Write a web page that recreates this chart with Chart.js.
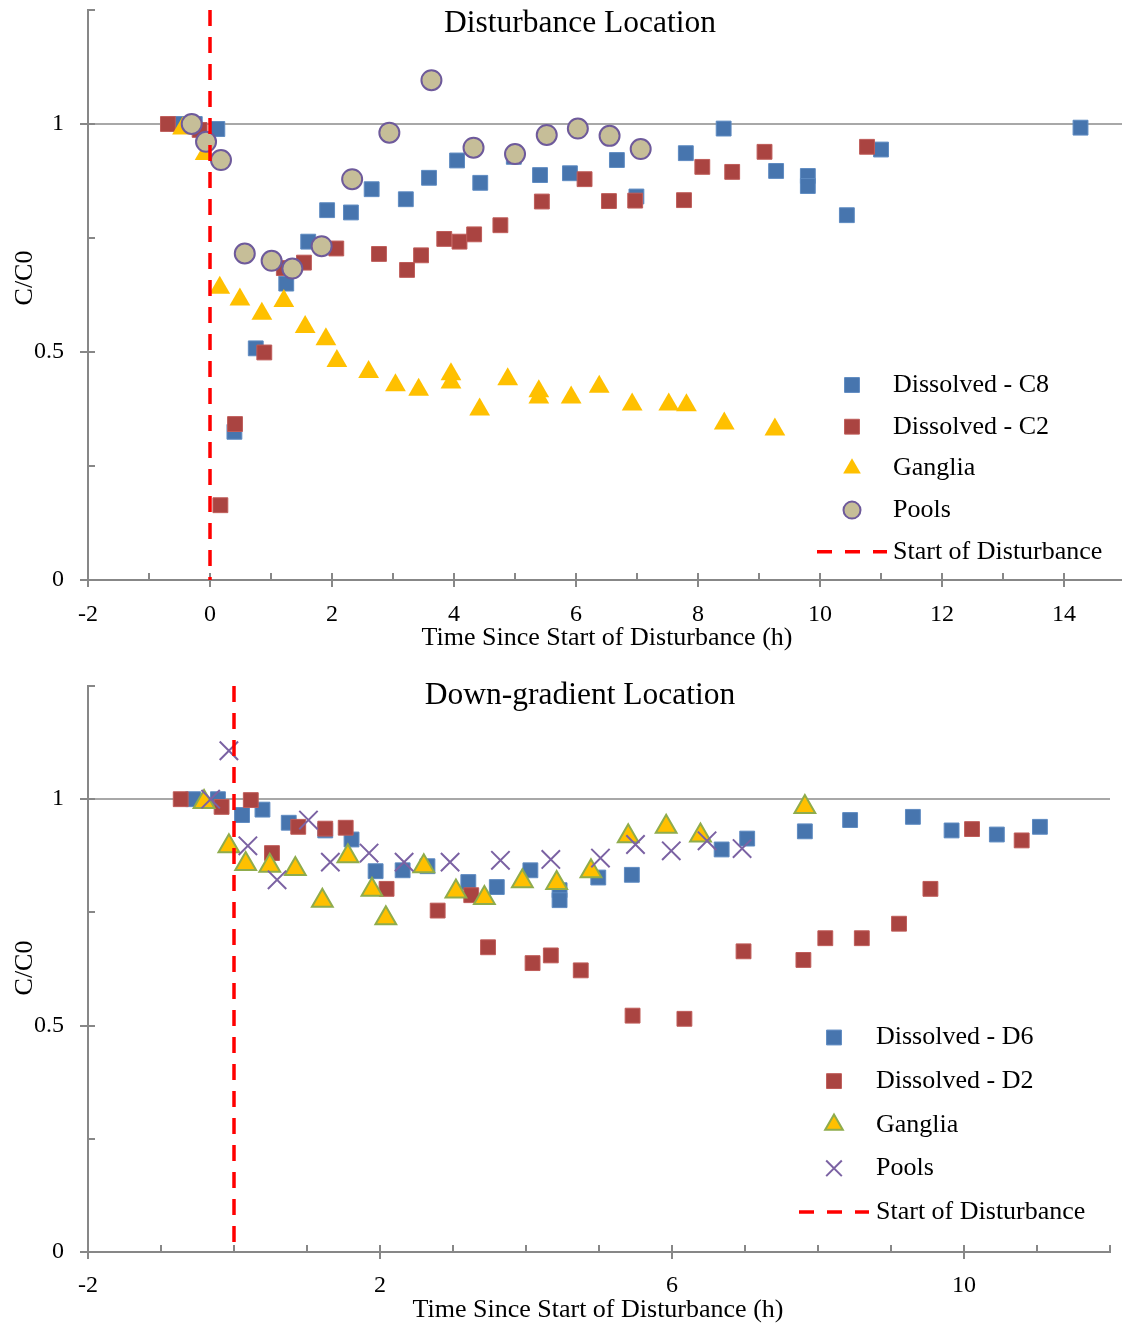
<!DOCTYPE html>
<html>
<head>
<meta charset="utf-8">
<script src="https://cdn.jsdelivr.net/npm/chart.js@4.4.0/dist/chart.umd.min.js"></script>
<style>
  body { margin: 0; background: #fff; }
  .panel { position: absolute; left: 0; }
</style>
</head>
<body>
<div class="panel" style="top:0"><canvas id="topChart" width="1122" height="662"></canvas></div>
<div class="panel" style="top:662px"><canvas id="bottomChart" width="1122" height="663"></canvas></div>
<script>
// ---- Disturbance Location (top panel) ----
var topC8Time = [-0.54, -0.25, 0.12, 0.40, 0.75, 1.25, 1.61, 1.92, 2.31, 2.65, 3.21, 3.59, 4.05, 4.43, 4.98, 5.41, 5.90, 6.67, 6.99, 7.80, 8.42, 9.28, 9.80, 9.80, 10.44, 11.0, 14.27];
var topC8Conc = [1.0, 1.0, 0.989, 0.325, 0.508, 0.65, 0.742, 0.811, 0.806, 0.857, 0.835, 0.882, 0.92, 0.871, 0.928, 0.888, 0.892, 0.921, 0.841, 0.936, 0.99, 0.897, 0.886, 0.864, 0.80, 0.944, 0.992];

var topC2Time = [-0.69, -0.17, 0.17, 0.41, 0.89, 1.21, 1.54, 2.07, 2.77, 3.23, 3.46, 3.84, 4.09, 4.33, 4.76, 5.44, 6.14, 6.54, 6.97, 7.77, 8.07, 8.56, 9.09, 10.77];
var topC2Conc = [1.0, 0.987, 0.164, 0.342, 0.499, 0.684, 0.696, 0.727, 0.715, 0.68, 0.712, 0.748, 0.742, 0.758, 0.778, 0.83, 0.879, 0.831, 0.832, 0.833, 0.906, 0.895, 0.939, 0.95];

var topGangliaTime = [-0.45, -0.08, 0.16, 0.49, 0.85, 1.21, 1.56, 1.90, 2.08, 2.60, 3.04, 3.42, 3.95, 3.95, 4.42, 4.88, 5.39, 5.39, 5.92, 6.38, 6.92, 7.52, 7.81, 8.43, 9.26];
var topGangliaConc = [0.99, 0.934, 0.641, 0.615, 0.584, 0.612, 0.555, 0.528, 0.48, 0.456, 0.427, 0.417, 0.451, 0.433, 0.374, 0.44, 0.414, 0.40, 0.40, 0.424, 0.385, 0.385, 0.383, 0.343, 0.33];

var topPoolsTime = [-0.30, -0.065, 0.18, 0.57, 1.01, 1.35, 1.83, 2.33, 2.94, 3.63, 4.32, 5.0, 5.52, 6.03, 6.55, 7.06];
var topPoolsConc = [1.0, 0.961, 0.921, 0.716, 0.70, 0.683, 0.732, 0.879, 0.981, 1.096, 0.948, 0.934, 0.976, 0.99, 0.974, 0.945];

// ---- Down-gradient Location (bottom panel) ----
var botD6Time = [-0.56, -0.22, 0.11, 0.39, 0.75, 1.25, 1.61, 1.94, 2.31, 2.65, 3.21, 3.60, 4.06, 4.46, 4.46, 4.99, 5.45, 6.68, 7.03, 7.82, 8.44, 9.30, 9.83, 10.45, 11.04];
var botD6Conc = [1.0, 1.0, 0.965, 0.977, 0.948, 0.931, 0.911, 0.841, 0.843, 0.852, 0.817, 0.806, 0.843, 0.799, 0.777, 0.827, 0.833, 0.889, 0.913, 0.929, 0.954, 0.961, 0.931, 0.922, 0.939];

var botD2Time = [-0.73, -0.17, 0.23, 0.52, 0.88, 1.25, 1.53, 2.09, 2.79, 3.25, 3.48, 4.09, 4.34, 4.75, 5.46, 6.17, 6.98, 7.80, 8.10, 8.60, 9.11, 9.54, 10.11, 10.79];
var botD2Conc = [1.0, 0.983, 0.998, 0.881, 0.939, 0.935, 0.937, 0.802, 0.754, 0.788, 0.673, 0.638, 0.655, 0.622, 0.522, 0.515, 0.664, 0.645, 0.693, 0.693, 0.725, 0.802, 0.934, 0.909];

var botGangliaTime = [-0.41, -0.07, 0.16, 0.49, 0.84, 1.21, 1.56, 1.89, 2.08, 2.60, 3.04, 3.43, 3.95, 4.42, 4.89, 5.40, 5.92, 6.39, 7.82];
var botGangliaConc = [0.994, 0.896, 0.857, 0.853, 0.846, 0.776, 0.874, 0.80, 0.737, 0.852, 0.796, 0.782, 0.819, 0.815, 0.841, 0.918, 0.939, 0.92, 0.983];

var botPoolsTime = [-0.32, -0.07, 0.19, 0.59, 1.02, 1.32, 1.85, 2.33, 2.96, 3.65, 4.34, 5.02, 5.50, 5.99, 6.48, 6.96];
var botPoolsConc = [1.0, 1.107, 0.897, 0.822, 0.954, 0.861, 0.881, 0.861, 0.861, 0.865, 0.867, 0.87, 0.90, 0.886, 0.908, 0.891];

// start of disturbance marker line (drawn top to bottom)
var disturbanceTime = [0, 0];
var disturbanceConc = [1.25, 0];

// tick labels
var yTickValues = [0, 0.5, 1];
var topXTickValues = [-2, 0, 2, 4, 6, 8, 10, 12, 14];
var botXTickValues = [-2, 2, 6, 10];

var FONT = "'Liberation Serif', 'Times New Roman', serif";

function pts(xs, ys) {
  return xs.map(function (x, i) { return { x: x, y: ys[i] }; });
}

// marker styles
var blueSq = { pointStyle: 'rect', pointRadius: 10.5, pointBackgroundColor: '#4775AE', pointBorderColor: '#5E8BC2', pointBorderWidth: 1 };
var redSq = { pointStyle: 'rect', pointRadius: 10.5, pointBackgroundColor: '#AA4441', pointBorderColor: '#BF5C59', pointBorderWidth: 1 };
var yellowTri = { pointStyle: 'triangle', pointRadius: 12, pointBackgroundColor: '#FFC000', pointBorderColor: '#FFC000', pointBorderWidth: 0 };
var greenTri = { pointStyle: 'triangle', pointRadius: 12, pointBackgroundColor: '#FFC000', pointBorderColor: '#8FAC4C', pointBorderWidth: 2 };
var tanCircle = { pointStyle: 'circle', pointRadius: 10, pointBackgroundColor: '#C6BE98', pointBorderColor: '#6E5A9B', pointBorderWidth: 2 };
var purpleCross = { pointStyle: 'crossRot', pointRadius: 13, pointBackgroundColor: '#7B62A3', pointBorderColor: '#7B62A3', pointBorderWidth: 2 };

function scatterSet(label, data, style, order) {
  var ds = { label: label, data: data, order: order, showLine: false };
  for (var k in style) ds[k] = style[k];
  ds.pointHoverRadius = style.pointRadius;
  return ds;
}

function dashSet(data) {
  return {
    label: 'Start of Disturbance', data: data, order: 0, showLine: true,
    borderColor: '#FF0000', borderWidth: 3.5, borderDash: [16, 11],
    pointRadius: 0, pointHoverRadius: 0, fill: false
  };
}

// tick marks (major crossing the axis, minor inside)
var tickMarks = {
  id: 'tickMarks',
  beforeDatasetsDraw: function (chart, args, opts) {
    var ctx = chart.ctx, xs = chart.scales.x, ys = chart.scales.y;
    var axisY = ys.bottom, axisX = xs.left;
    ctx.save();
    ctx.strokeStyle = '#878787';
    ctx.lineWidth = 2;
    ctx.beginPath();
    for (var v = opts.xFrom; v <= opts.xTo; v++) {
      var px = Math.round(xs.getPixelForValue(v));
      var major = opts.xMajor.indexOf(v) >= 0;
      ctx.moveTo(px, axisY + (major ? 7 : 0));
      ctx.lineTo(px, axisY - 7);
    }
    [0, 0.25, 0.5, 0.75, 1, 1.25].forEach(function (val) {
      var py = Math.round(ys.getPixelForValue(val));
      var major = yTickValues.indexOf(val) >= 0;
      ctx.moveTo(axisX - (major ? 8 : 0), py);
      ctx.lineTo(axisX + 7, py);
    });
    ctx.stroke();
    ctx.restore();
  }
};

// titles and custom legend inside the plot
var decorations = {
  id: 'decorations',
  afterDraw: function (chart, args, opts) {
    var ctx = chart.ctx;
    ctx.save();
    ctx.fillStyle = '#000';
    ctx.textBaseline = 'middle';
    ctx.textAlign = 'center';
    ctx.font = '31.5px ' + FONT;
    ctx.fillText(opts.title, opts.titleX, opts.titleY);
    ctx.font = '26px ' + FONT;
    ctx.fillText('Time Since Start of Disturbance (h)', opts.xTitleX, opts.xTitleY);
    ctx.save();
    ctx.translate(opts.yTitleX, opts.yTitleY);
    ctx.rotate(-Math.PI / 2);
    ctx.fillText('C/C0', 0, 0);
    ctx.restore();

    // legend
    var lg = opts.legend;
    ctx.textAlign = 'left';
    ctx.font = '26px ' + FONT;
    chart.data.datasets.forEach(function (ds, i) {
      var y = lg.y0 + i * lg.dy;
      if (ds.showLine) {
        ctx.save();
        ctx.strokeStyle = ds.borderColor;
        ctx.lineWidth = ds.borderWidth;
        ctx.setLineDash([15, 13]);
        ctx.beginPath();
        ctx.moveTo(lg.dashFrom, y);
        ctx.lineTo(lg.dashTo, y);
        ctx.stroke();
        ctx.restore();
      } else {
        ctx.save();
        ctx.fillStyle = ds.pointBackgroundColor;
        ctx.strokeStyle = ds.pointBorderColor;
        ctx.lineWidth = ds.pointBorderWidth;
        var r = ds.pointStyle === 'rect' ? ds.pointRadius : ds.pointRadius * 0.85;
        Chart.helpers.drawPoint(ctx, { pointStyle: ds.pointStyle, radius: r, borderWidth: ds.pointBorderWidth, rotation: 0 }, lg.markerX, y);
        ctx.restore();
      }
      ctx.fillStyle = '#000';
      ctx.fillText(ds.label, lg.textX, y);
    });
    ctx.restore();
  }
};

function makeOptions(cfg) {
  return {
    responsive: false,
    animation: false,
    events: [],
    layout: { autoPadding: false, padding: { left: 0, top: cfg.padTop, right: cfg.padRight, bottom: 0 } },
    scales: {
      x: {
        type: 'linear', min: -2, max: cfg.xMax,
        afterFit: function (s) { s.height = cfg.xAxisHeight; s.paddingLeft = 0; s.paddingRight = 0; },
        grid: { display: false, drawTicks: false },
        border: { display: true, color: '#878787', width: 2 },
        ticks: {
          stepSize: 1, includeBounds: false, autoSkip: false, maxRotation: 0, padding: cfg.xTickPad,
          color: '#000', font: { family: FONT, size: 24 },
          callback: function (v) { return cfg.xLabels.indexOf(v) >= 0 ? String(v) : ''; }
        }
      },
      y: {
        type: 'linear', min: 0, max: 1.25,
        afterFit: function (s) { s.width = 88; s.paddingTop = 0; s.paddingBottom = 0; },
        grid: {
          drawTicks: false, lineWidth: 2,
          color: function (c) { return c.tick && c.tick.value === 1 ? '#A8A8A8' : 'rgba(0,0,0,0)'; }
        },
        border: { display: true, color: '#878787', width: 2 },
        ticks: {
          stepSize: 0.25, autoSkip: false, padding: 24,
          color: '#000', font: { family: FONT, size: 24 },
          callback: function (v) { return yTickValues.indexOf(v) >= 0 ? String(v) : ''; }
        }
      }
    },
    plugins: {
      legend: { display: false },
      tooltip: { enabled: false },
      tickMarks: { xFrom: -2, xTo: cfg.xLastTick, xMajor: cfg.xLabels },
      decorations: cfg.decor
    }
  };
}

new Chart(document.getElementById('topChart').getContext('2d'), {
  type: 'scatter',
  data: {
    datasets: [
      scatterSet('Dissolved - C8', pts(topC8Time, topC8Conc), blueSq, 4),
      scatterSet('Dissolved - C2', pts(topC2Time, topC2Conc), redSq, 3),
      scatterSet('Ganglia', pts(topGangliaTime, topGangliaConc), yellowTri, 2),
      scatterSet('Pools', pts(topPoolsTime, topPoolsConc), tanCircle, 1),
      dashSet(pts(disturbanceTime, disturbanceConc))
    ]
  },
  options: makeOptions({
    padTop: 10, padRight: 0, xMax: 14.95, xAxisHeight: 82, xTickPad: 20,
    xLabels: topXTickValues, xLastTick: 14,
    decor: {
      title: 'Disturbance Location', titleX: 580, titleY: 24,
      xTitleX: 607, xTitleY: 638, yTitleX: 25, yTitleY: 278,
      legend: { markerX: 852, textX: 893, y0: 385, dy: 41.7, dashFrom: 817, dashTo: 887 }
    }
  }),
  plugins: [tickMarks, decorations]
});

new Chart(document.getElementById('bottomChart').getContext('2d'), {
  type: 'scatter',
  data: {
    datasets: [
      scatterSet('Dissolved - D6', pts(botD6Time, botD6Conc), blueSq, 4),
      scatterSet('Dissolved - D2', pts(botD2Time, botD2Conc), redSq, 3),
      scatterSet('Ganglia', pts(botGangliaTime, botGangliaConc), greenTri, 2),
      scatterSet('Pools', pts(botPoolsTime, botPoolsConc), purpleCross, 1),
      dashSet(pts(disturbanceTime, disturbanceConc))
    ]
  },
  options: makeOptions({
    padTop: 24, padRight: 12, xMax: 12, xAxisHeight: 73, xTickPad: 19,
    xLabels: botXTickValues, xLastTick: 12,
    decor: {
      title: 'Down-gradient Location', titleX: 580, titleY: 34,
      xTitleX: 598, xTitleY: 648, yTitleX: 25, yTitleY: 306,
      legend: { markerX: 834, textX: 876, y0: 375.5, dy: 43.6, dashFrom: 799, dashTo: 869 }
    }
  }),
  plugins: [tickMarks, decorations]
});
</script>
</body>
</html>
